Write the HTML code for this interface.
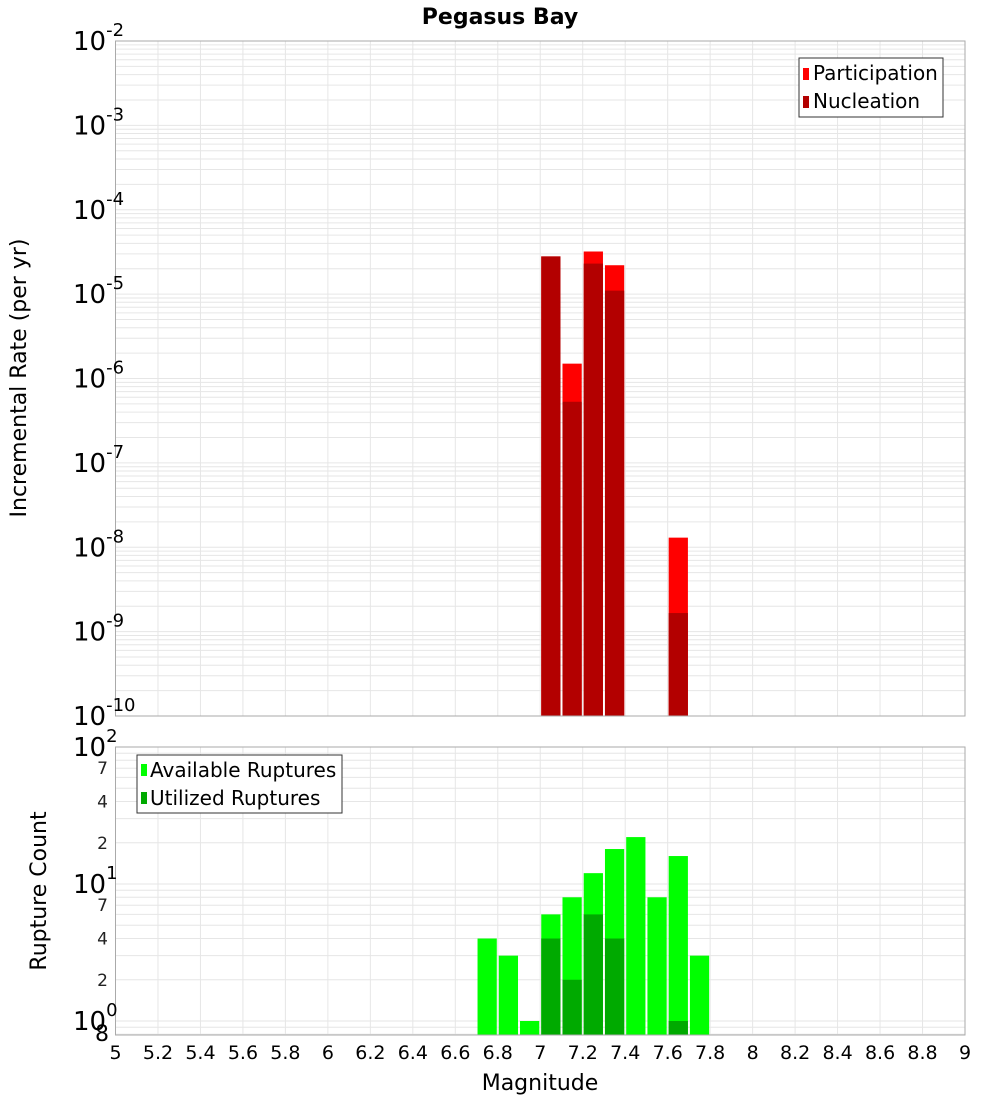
<!DOCTYPE html>
<html><head><meta charset="utf-8"><style>
body{margin:0;background:#fff;}
svg{display:block;font-family:"DejaVu Sans","Liberation Sans",sans-serif;}
</style></head><body>
<svg id="chart" width="1000" height="1100" xmlns="http://www.w3.org/2000/svg">
<text x="500" y="24" text-anchor="middle" font-size="22" font-weight="bold">Pegasus Bay</text>
<g id="topPanel"></g>
<g id="botPanel"></g>
<text transform="translate(26,378) rotate(-90)" text-anchor="middle" font-size="22">Incremental Rate (per yr)</text>
<text transform="translate(46,891) rotate(-90)" text-anchor="middle" font-size="22">Rupture Count</text>
<text x="540" y="1090" text-anchor="middle" font-size="22">Magnitude</text>
<g>
<rect x="799" y="58" width="144" height="59" fill="#fff" stroke="#333"/>
<rect x="803" y="68" width="6" height="12" fill="#ff0000"/>
<text x="813" y="80" font-size="20">Participation</text>
<rect x="803" y="96" width="6" height="12" fill="#b30000"/>
<text x="813" y="108" font-size="20">Nucleation</text>
</g>
<g>
<rect x="137" y="755" width="205" height="58" fill="#fff" stroke="#333"/>
<rect x="141" y="764" width="6" height="12" fill="#00ff00"/>
<text x="150" y="777" font-size="20">Available Ruptures</text>
<rect x="141" y="792" width="6" height="12" fill="#00aa00"/>
<text x="150" y="805" font-size="20">Utilized Ruptures</text>
</g>
</svg>
<script>
const mags = [7.05, 7.15, 7.25, 7.35, 7.65];
const participation = [2.8e-5, 1.5e-6, 3.2e-5, 2.2e-5, 1.3e-8];
const nucleation = [2.8e-5, 5.3e-7, 2.3e-5, 1.1e-5, 1.66e-9];
const countMags = [6.75, 6.85, 6.95, 7.05, 7.15, 7.25, 7.35, 7.45, 7.55, 7.65, 7.75];
const available = [4, 3, 1, 6, 8, 12, 18, 22, 8, 16, 3];
const utilized = [0, 0, 0, 4, 2, 6, 4, 0, 0, 1, 0];
const xTicks = [5,5.2,5.4,5.6,5.8,6,6.2,6.4,6.6,6.8,7,7.2,7.4,7.6,7.8,8,8.2,8.4,8.6,8.8,9];
const rateExps = [-2,-3,-4,-5,-6,-7,-8,-9,-10];
const countMinor = [2,4,7,20,40,70];

const NS="http://www.w3.org/2000/svg";
const X0=115.5,X1=965;
const xs=m=>X0+(m-5)/4*(X1-X0);
const T0=41,T1=716;
const yt=v=>T0+(-2-Math.log10(v))/8*(T1-T0);
const B0=747,B1=1035,DEC=137,B10=1021;
const yb=v=>B10-Math.log10(v)*DEC;
function el(p,tag,a,txt){const e=document.createElementNS(NS,tag);for(const k in a)e.setAttribute(k,a[k]);if(txt!==undefined)e.textContent=txt;p.appendChild(e);return e;}
const topG=document.getElementById('topPanel'),botG=document.getElementById('botPanel');
[[topG,T0,T1],[botG,B0,B1]].forEach(([g,a,b])=>{
  xTicks.forEach(t=>{const l=el(g,'line',{x1:xs(t),x2:xs(t),y1:a,y2:b,stroke:'#e6e6e6'});
  
  });
});
for(let e=-10;e<-2;e++)for(let k=1;k<10;k++){const y=yt(k*Math.pow(10,e));
  const l=el(topG,'line',{x1:X0,x2:X1,y1:y,y2:y,stroke:'#e6e6e6'});
  
  }
for(let e=-1;e<2;e++)for(let k=1;k<10;k++){const y=yb(k*Math.pow(10,e));if(y<B0||y>B1)continue;
  const l=el(botG,'line',{x1:X0,x2:X1,y1:y,y2:y,stroke:'#e6e6e6'});
  
  }
const bw=(X1-X0)/40;
mags.forEach((m,i)=>{
  const x=xs(m)-bw/2+1;
  let r=el(topG,'rect',{x:x,y:yt(participation[i]),width:bw-2,height:T1-yt(participation[i]),fill:'#ff0000'});
  
  
  r=el(topG,'rect',{x:x,y:yt(nucleation[i]),width:bw-2,height:T1-yt(nucleation[i]),fill:'#b30000'});
  
  
});
countMags.forEach((m,i)=>{
  const x=xs(m)-bw/2+1;
  let r=el(botG,'rect',{x:x,y:yb(available[i]),width:bw-2,height:B1-yb(available[i]),fill:'#00ff00'});
  
  
  if(utilized[i]>0){r=el(botG,'rect',{x:x,y:yb(utilized[i]),width:bw-2,height:B1-yb(utilized[i]),fill:'#00aa00'});
  
  }
});
el(topG,'rect',{x:X0,y:T0,width:X1-X0,height:T1-T0,fill:'none',stroke:'#aaa'});
el(botG,'rect',{x:X0,y:B0,width:X1-X0,height:B1-B0,fill:'none',stroke:'#aaa'});
rateExps.forEach(e=>{const y=yt(Math.pow(10,e));
  const t=el(topG,'text',{x:73,y:y+9,'font-size':26});
  
  
  t.textContent='10';
  el(t,'tspan',{dy:-14,'font-size':18},String(e));});
[0,1,2].forEach(e=>{const y=yb(Math.pow(10,e));
  const t=el(botG,'text',{x:73,y:y+9,'font-size':26});
  
  
  t.textContent='10';
  el(t,'tspan',{dy:-14,'font-size':18},String(e));});
countMinor.forEach(v=>{const t=el(botG,'text',{x:108,y:yb(v)+6,'font-size':17,'text-anchor':'end',fill:'#222'},String(v%10===0?v/10:v));
  
  });
{const t=el(botG,'text',{x:102,y:1041,'font-size':22,'text-anchor':'middle'},'8');
  
  }
xTicks.forEach(v=>{const t=el(botG,'text',{x:xs(v),y:1059,'font-size':19,'text-anchor':'middle'},String(v));
  
  });
</script>
</body></html>
